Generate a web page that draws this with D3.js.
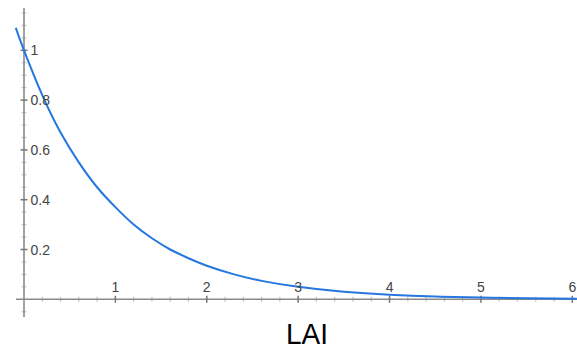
<!DOCTYPE html>
<html><head><meta charset="utf-8">
<script src="https://cdn.jsdelivr.net/npm/d3@7"></script>
<style>body{margin:0;background:#fff}svg{display:block}</style>
</head><body>
<svg id="c" width="577" height="350"></svg>
<script>
// Data
const curveX = [-0.09, 0, 0.2, 0.4, 0.6, 0.8, 1, 1.2, 1.4, 1.6, 1.8, 2, 2.3, 2.6, 3, 3.5, 4, 4.5, 5, 5.5, 6.05];
const curveY = [1.09, 1.0, 0.82, 0.67, 0.55, 0.45, 0.37, 0.30, 0.245, 0.20, 0.165, 0.135, 0.10, 0.074, 0.05, 0.03, 0.018, 0.011, 0.007, 0.004, 0.002];
const xTickLabels = ["1", "2", "3", "4", "5", "6"];
const yTickLabels = ["0.2", "0.4", "0.6", "0.8", "1"];
const xTickValues = [1, 2, 3, 4, 5, 6];
const yTickValues = [0.2, 0.4, 0.6, 0.8, 1];
const xAxisTitle = "LAI";

const svg = d3.select("#c");
const x = d3.scaleLinear().domain([0, 6]).range([24, 572.3]);
const y = d3.scaleLinear().domain([0, 1]).range([299.3, 50.3]);

const axisColor = "#8a8a8a", minorColor = "#c4c4c4", textColor = "#444";

// minor ticks
const xMinor = d3.range(-0.0, 6.21, 0.2).filter(v => Math.abs(v - Math.round(v)) > 1e-6);
const yMinor = d3.range(-0.05, 1.16, 0.05).filter(v => Math.abs(v * 5 - Math.round(v * 5)) > 1e-6);

svg.append("g").selectAll("line").data(xMinor).join("line")
  .attr("x1", d => x(d)).attr("x2", d => x(d))
  .attr("y1", y(0) - 2.5).attr("y2", y(0) + 2.5)
  .attr("stroke", minorColor).attr("stroke-width", 1.2);
svg.append("g").selectAll("line").data(yMinor).join("line")
  .attr("x1", x(0) - 2.5).attr("x2", x(0) + 2.5)
  .attr("y1", d => y(d)).attr("y2", d => y(d))
  .attr("stroke", minorColor).attr("stroke-width", 1.2);

// axis lines
svg.append("line").attr("x1", 16).attr("x2", 577).attr("y1", y(0)).attr("y2", y(0))
  .attr("stroke", axisColor).attr("stroke-width", 1.6);
svg.append("line").attr("x1", x(0)).attr("x2", x(0)).attr("y1", 8).attr("y2", 317)
  .attr("stroke", axisColor).attr("stroke-width", 1.6);

// major ticks
svg.append("g").selectAll("line").data(xTickValues).join("line")
  .attr("x1", d => x(d)).attr("x2", d => x(d))
  .attr("y1", y(0) - 3.5).attr("y2", y(0) + 3.5)
  .attr("stroke", "#777").attr("stroke-width", 1.5);
svg.append("g").selectAll("line").data(yTickValues).join("line")
  .attr("x1", x(0) - 3.5).attr("x2", x(0) + 3.5)
  .attr("y1", d => y(d)).attr("y2", d => y(d))
  .attr("stroke", "#777").attr("stroke-width", 1.5);

// curve
const pts = curveX.map((v, i) => [v, curveY[i]]);
svg.append("path").datum(pts)
  .attr("d", d3.line().x(d => x(d[0])).y(d => y(d[1])).curve(d3.curveNatural))
  .attr("fill", "none").attr("stroke", "#2477e0").attr("stroke-width", 2);

// tick labels
svg.append("g").selectAll("text").data(xTickValues).join("text")
  .attr("x", d => x(d)).attr("y", y(0) - 7.5)
  .attr("text-anchor", "middle")
  .attr("font-family", "Liberation Sans, Arial, sans-serif").attr("font-size", 14)
  .attr("fill", textColor).text((d, i) => xTickLabels[i]);
svg.append("g").selectAll("text").data(yTickValues).join("text")
  .attr("x", x(0) + 6.5).attr("y", d => y(d)).attr("dy", "0.36em")
  .attr("font-family", "Liberation Sans, Arial, sans-serif").attr("font-size", 14)
  .attr("fill", textColor).text((d, i) => yTickLabels[i]);

// axis title
svg.append("text").attr("x", 307).attr("y", 344).attr("text-anchor", "middle")
  .attr("font-family", "Liberation Sans, Arial, sans-serif").attr("font-size", 30)
  .attr("textLength", 42).attr("lengthAdjust", "spacingAndGlyphs")
  .attr("fill", "#000").text(xAxisTitle);
</script>
</body></html>
